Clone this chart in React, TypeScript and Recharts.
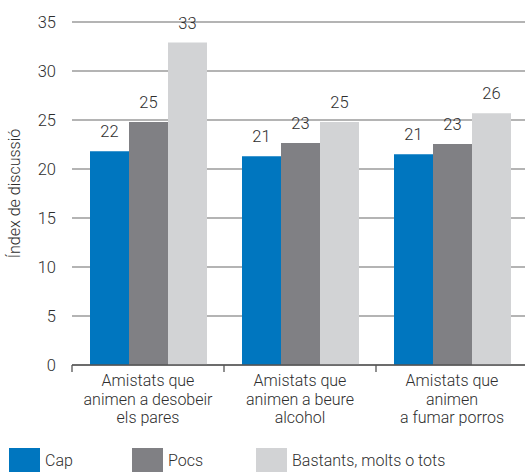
import React from 'react';
import { BarChart, Bar, XAxis, YAxis, CartesianGrid, LabelList } from 'recharts';

const categoryLines: string[][] = [
  ['Amistats que', 'animen a desobeir', 'els pares'],
  ['Amistats que', 'animen a beure', 'alcohol'],
  ['Amistats que', 'animen', 'a fumar porros'],
];
const categories = categoryLines.map((l) => l.join(' '));

const seriesNames = ['Cap', 'Pocs', 'Bastants, molts o tots'];
const seriesColors = ['#0076BF', '#808084', '#D2D3D5'];

const capValues = [21.8, 21.3, 21.5];
const pocsValues = [24.8, 22.65, 22.55];
const bastantsValues = [32.9, 24.8, 25.7];

const capLabels = [22, 21, 21];
const pocsLabels = [25, 23, 23];
const bastantsLabels = [33, 25, 26];

const yTicks = [0, 5, 10, 15, 20, 25, 30, 35];
const yLabel = 'Índex de discussió';

const data = categories.map((c, i) => ({
  cat: c,
  cap: capValues[i],
  capLabel: capLabels[i],
  pocs: pocsValues[i],
  pocsLabel: pocsLabels[i],
  bastants: bastantsValues[i],
  bastantsLabel: bastantsLabels[i],
}));

const FONT = 'Roboto, "Liberation Sans", Arial, sans-serif';
const WEIGHT = 300;
const TEXT = '#2e2e2e';

const CategoryTick = (props: any) => {
  const { x, y, payload, width, visibleTicksCount } = props;
  const half =
    payload && typeof payload.offset === 'number' && payload.offset > 0
      ? payload.offset
      : width / ((visibleTicksCount || 3) * 2);
  const idx = categories.indexOf(payload.value);
  const lines = categoryLines[idx] || [String(payload.value)];
  return (
    <g>
      <line x1={x - half} x2={x - half} y1={y} y2={y + 7} stroke="#555" strokeWidth={1.3} />
      <text textAnchor="middle" fill={TEXT} fontSize={16} fontWeight={WEIGHT} fontFamily={FONT}>
        {lines.map((l, i) => (
          <tspan key={i} x={x} y={y + 21 + i * 18.5}>
            {l}
          </tspan>
        ))}
      </text>
    </g>
  );
};

const legendLeft = [9, 132, 256];

export default function App() {
  return (
    <div
      style={{
        position: 'absolute',
        left: 0,
        top: 0,
        width: 525,
        height: 472,
        overflow: 'hidden',
        background: '#fff',
        fontFamily: FONT,
        fontWeight: WEIGHT,
      }}
    >
      <BarChart
        width={530}
        height={472}
        data={data}
        margin={{ top: 22, right: 2, left: 0, bottom: 0 }}
        barCategoryGap={18}
        barGap={0}
      >
        <CartesianGrid vertical={false} stroke="#6b6b6b" strokeWidth={1.2} />
        <XAxis
          dataKey="cat"
          height={107}
          axisLine={{ stroke: '#555', strokeWidth: 1.3 }}
          tickLine={false}
          tickSize={0}
          tickMargin={0}
          interval={0}
          tick={<CategoryTick />}
        />
        <YAxis
          width={72}
          domain={[0, 35]}
          ticks={yTicks}
          axisLine={false}
          tickLine={false}
          tickMargin={10}
          tick={{ fill: TEXT, fontSize: 16.5, fontFamily: FONT, fontWeight: WEIGHT }}
          label={{
            value: yLabel,
            angle: -90,
            position: 'insideLeft',
            offset: 14,
            style: { textAnchor: 'middle', fill: TEXT, fontSize: 16, fontFamily: FONT, fontWeight: WEIGHT },
          }}
        />
        <Bar dataKey="cap" fill={seriesColors[0]} isAnimationActive={false}>
          <LabelList dataKey="capLabel" position="top" offset={14} fill={TEXT} fontSize={16.5} fontWeight={WEIGHT} fontFamily={FONT} />
        </Bar>
        <Bar dataKey="pocs" fill={seriesColors[1]} isAnimationActive={false}>
          <LabelList dataKey="pocsLabel" position="top" offset={14} fill={TEXT} fontSize={16.5} fontWeight={WEIGHT} fontFamily={FONT} />
        </Bar>
        <Bar dataKey="bastants" fill={seriesColors[2]} isAnimationActive={false}>
          <LabelList dataKey="bastantsLabel" position="top" offset={14} fill={TEXT} fontSize={16.5} fontWeight={WEIGHT} fontFamily={FONT} />
        </Bar>
      </BarChart>
      {seriesNames.map((name, i) => (
        <div key={name} style={{ position: 'absolute', left: legendLeft[i], top: 448, height: 24 }}>
          <div style={{ position: 'absolute', left: 0, top: 0, width: 31, height: 24, background: seriesColors[i] }} />
          <div
            style={{
              position: 'absolute',
              left: 36,
              top: 3,
              whiteSpace: 'nowrap',
              fontSize: 16,
              lineHeight: '20px',
              color: TEXT,
            }}
          >
            {name}
          </div>
        </div>
      ))}
    </div>
  );
}
